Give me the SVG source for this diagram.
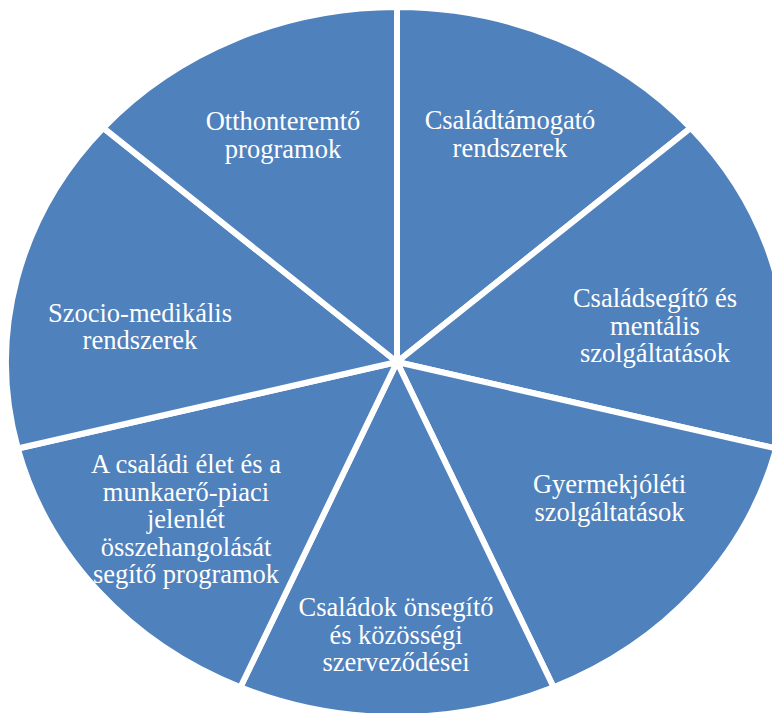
<svg xmlns="http://www.w3.org/2000/svg" width="772" height="713" viewBox="0 0 772 713">
  <style>
    .slice { fill: #4f81bd; stroke: #ffffff; stroke-width: 6; stroke-linejoin: round; }
    .label { fill: #ffffff; font-family: "Liberation Serif", "Times New Roman", serif; font-size: 26.5px; text-anchor: middle; }
  </style>
  <rect width="772" height="713" fill="#ffffff"/>
  <!-- seven equal slices around (397,362); white stroke forms the gaps -->
  <g id="slice-csaladtamogato">
    <path class="slice" d="M397 362 L397 7 A391 355 0 0 1 690.7 127.8 Z"/>
    <text class="label" x="510" y="129">Családtámogató</text>
    <text class="label" x="510" y="156.5">rendszerek</text>
  </g>
  <g id="slice-csaladsegito">
    <path class="slice" d="M397 362 L690.7 127.8 A391 355 0 0 1 776.2 448.5 Z"/>
    <text class="label" x="655" y="307">Családsegítő és</text>
    <text class="label" x="655" y="334.5">mentális</text>
    <text class="label" x="655" y="362">szolgáltatások</text>
  </g>
  <g id="slice-gyermekjoleti">
    <path class="slice" d="M397 362 L776.2 448.5 A391 355 0 0 1 553.6 687.3 Z"/>
    <text class="label" x="609.5" y="493">Gyermekjóléti</text>
    <text class="label" x="609.5" y="520.5">szolgáltatások</text>
  </g>
  <g id="slice-onsegito">
    <path class="slice" d="M397 362 L553.6 687.3 A391 355 0 0 1 240.4 687.3 Z"/>
    <text class="label" x="396" y="616">Családok önsegítő</text>
    <text class="label" x="396" y="643.5">és közösségi</text>
    <text class="label" x="396" y="671">szerveződései</text>
  </g>
  <g id="slice-munkaeropiac">
    <path class="slice" d="M397 362 L240.4 687.3 A391 355 0 0 1 17.8 448.5 Z"/>
    <text class="label" x="186" y="473">A családi élet és a</text>
    <text class="label" x="186" y="500.5">munkaerő-piaci</text>
    <text class="label" x="186" y="528">jelenlét</text>
    <text class="label" x="186" y="555.5">összehangolását</text>
    <text class="label" x="186" y="583">segítő programok</text>
  </g>
  <g id="slice-szociomedikalis">
    <path class="slice" d="M397 362 L17.8 448.5 A391 355 0 0 1 103.3 127.8 Z"/>
    <text class="label" x="140" y="321.5">Szocio-medikális</text>
    <text class="label" x="140" y="349">rendszerek</text>
  </g>
  <g id="slice-otthonteremto">
    <path class="slice" d="M397 362 L103.3 127.8 A391 355 0 0 1 397 7 Z"/>
    <text class="label" x="283" y="130">Otthonteremtő</text>
    <text class="label" x="283" y="157.5">programok</text>
  </g>
  <g id="connectors"/>
</svg>
